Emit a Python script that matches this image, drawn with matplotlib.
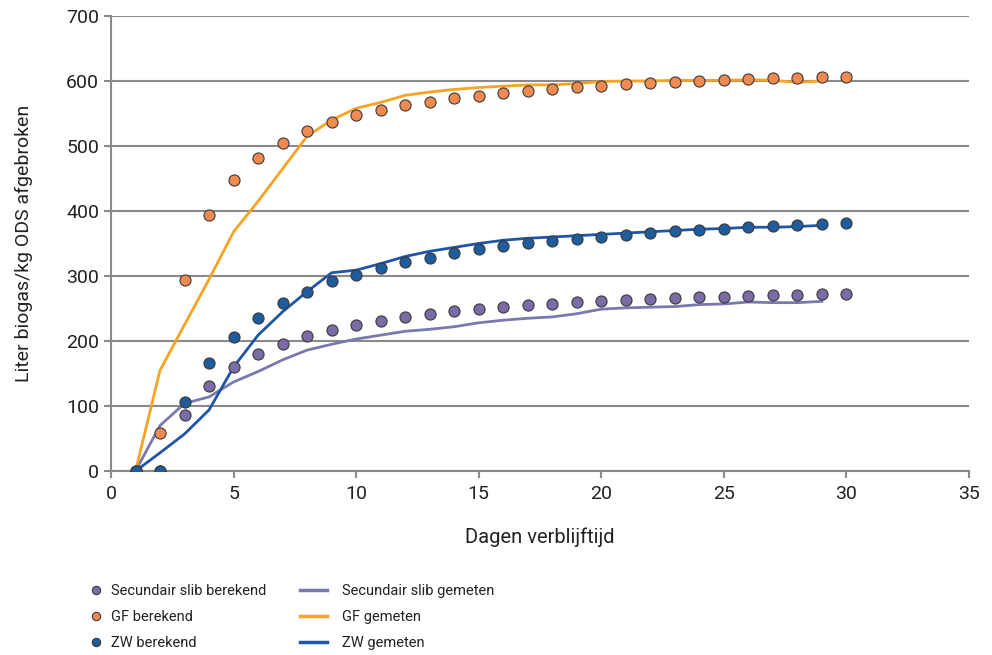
import matplotlib
matplotlib.use("Agg")
import matplotlib.pyplot as plt
from matplotlib.lines import Line2D

plt.rcParams['font.family'] = ['Roboto', 'DejaVu Sans']

# dagen verblijftijd
dagen_ber = list(range(1, 31))
dagen_gem = list(range(1, 30))

# berekende waarden (punten)
slib_ber = [0, 0, 86, 131, 160, 180, 195, 208, 217, 225, 231, 237, 242, 246, 249,
            252, 255, 257, 260, 262, 263, 265, 266, 268, 268, 269, 271, 271, 272, 272]
gf_ber = [0, 58, 294, 394, 448, 482, 505, 523, 537, 548, 555, 563, 568, 574, 577,
          581, 585, 588, 591, 592, 595, 597, 598, 600, 602, 603, 605, 605, 606, 606]
zw_ber = [0, 0, 106, 166, 206, 235, 258, 275, 292, 302, 312, 322, 328, 335, 342,
          346, 351, 354, 357, 360, 363, 366, 369, 371, 372, 375, 377, 378, 380, 382]

# gemeten waarden (lijnen)
slib_gem = [0, 70, 104, 114, 137, 153, 171, 186, 195, 203, 209, 215, 218, 222, 228,
            232, 235, 237, 242, 249, 251, 252, 253, 256, 257, 260, 259, 259, 261]
gf_gem = [0, 155, 225, 295, 368, 415, 465, 515, 540, 558, 567, 578, 583, 587, 590,
          592, 594, 594, 596, 599, 600, 600, 601, 601, 601, 602, 601, 598, 600]
zw_gem = [0, 28, 57, 94, 160, 209, 245, 276, 305, 309, 319, 330, 338, 344, 350,
          355, 358, 360, 362, 364, 366, 368, 370, 372, 373, 375, 375, 376, 378]

labels_ber = ['Secundair slib berekend', 'GF berekend', 'ZW berekend']
labels_gem = ['Secundair slib gemeten', 'GF gemeten', 'ZW gemeten']

c_slib_pt, c_gf_pt, c_zw_pt = '#7b6ca8', '#f08a50', '#1f5c9e'
c_slib_ln, c_gf_ln, c_zw_ln = '#7a78b0', '#f7a324', '#1f55a8'
grid_c = '#8a8a8a'
txt_c = '#222222'

fig = plt.figure(figsize=(9.92, 6.55), dpi=100)
ax = fig.add_axes([0.1119, 0.2809, 0.8649, 0.6947])

ax.plot(dagen_gem, slib_gem, color=c_slib_ln, lw=2, zorder=3)
ax.plot(dagen_gem, gf_gem, color=c_gf_ln, lw=2, zorder=3)
ax.plot(dagen_gem, zw_gem, color=c_zw_ln, lw=2, zorder=3)

mk = dict(marker='o', ls='none', ms=8, mec='#3a3a3a', mew=0.8, zorder=4)
ax.plot(dagen_ber, slib_ber, mfc=c_slib_pt, **mk)
ax.plot(dagen_ber, gf_ber, mfc=c_gf_pt, **mk)
ax.plot(dagen_ber, zw_ber, mfc=c_zw_pt, **mk)

ax.set_xlim(0, 35)
ax.set_ylim(0, 700)
ax.set_xticks(range(0, 36, 5))
ax.set_yticks(range(0, 701, 100))
ax.yaxis.grid(True, color=grid_c, lw=1.5)
ax.set_axisbelow(True)
for s in ['top', 'right']:
    ax.spines[s].set_visible(False)
for s in ['left', 'bottom']:
    ax.spines[s].set_color(grid_c)
    ax.spines[s].set_linewidth(1.5)
ax.tick_params(axis='both', colors=grid_c, width=1.5, length=5, labelsize=14,
               labelcolor=txt_c)
ax.tick_params(axis='x', pad=5)

ax.set_xlabel('Dagen verblijftijd', fontsize=14.5, color=txt_c, labelpad=18)
ax.set_ylabel('Liter biogas/kg ODS afgebroken', fontsize=14, color=txt_c, labelpad=24)

h_pts = [Line2D([], [], marker='o', ls='none', ms=6, mec='#3a3a3a', mew=0.8, mfc=c)
         for c in (c_slib_pt, c_gf_pt, c_zw_pt)]
h_lns = [Line2D([], [], color=c, lw=2.5) for c in (c_slib_ln, c_gf_ln, c_zw_ln)]

leg_a = fig.legend(h_pts, labels_ber, loc='upper left', bbox_to_anchor=(0.089, 0.108),
                   frameon=False, fontsize=10.5, handlelength=1.0, handletextpad=0.55,
                   labelspacing=0.82, borderaxespad=0, borderpad=0)
leg_b = fig.legend(h_lns, labels_gem, loc='upper left', bbox_to_anchor=(0.302, 0.108),
                   frameon=False, fontsize=10.5, handlelength=1.9, handletextpad=1.0,
                   labelspacing=0.82, borderaxespad=0, borderpad=0)
for lg in (leg_a, leg_b):
    for t in lg.get_texts():
        t.set_color(txt_c)

fig.savefig('out.png', dpi=100)
